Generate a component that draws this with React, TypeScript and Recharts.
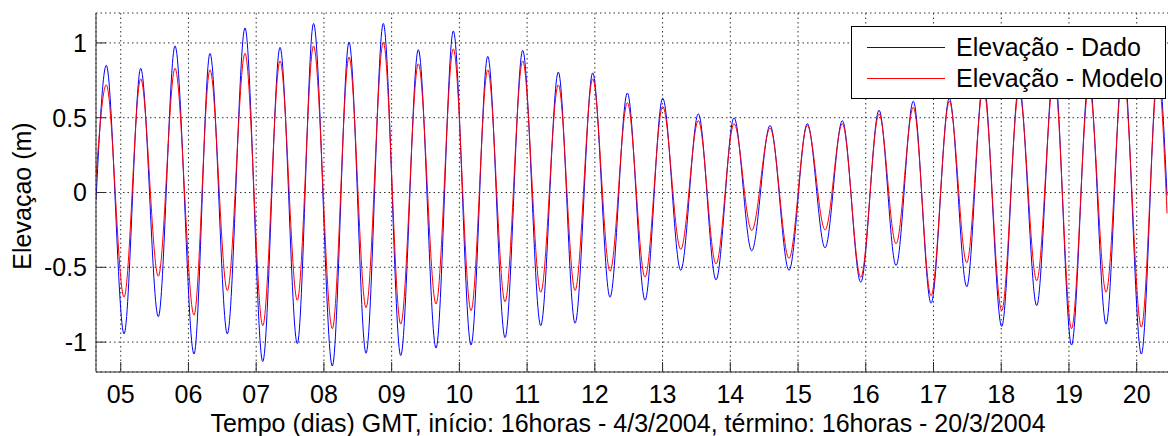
import { LineChart, Line, XAxis, YAxis, CartesianGrid } from "recharts";

const tempo = [
    4.635, 4.787, 5.049, 5.295, 5.555, 5.802, 6.082, 6.318, 6.574, 6.835, 7.097,
    7.352, 7.607, 7.847, 8.124, 8.371, 8.622, 8.877, 9.134, 9.394, 9.655, 9.911,
    10.172, 10.419, 10.674, 10.935, 11.201, 11.461, 11.708, 11.969, 12.224, 12.48,
    12.741, 13.002, 13.268, 13.528, 13.789, 14.055, 14.316, 14.587, 14.867, 15.137,
    15.399, 15.654, 15.926, 16.196, 16.447, 16.702, 16.964, 17.234, 17.491, 17.736,
    18.007, 18.263, 18.524, 18.78, 19.038, 19.296, 19.548, 19.799, 20.069, 20.315,
    20.448
];

const dado = [
    -0.05, 0.85, -0.945, 0.83, -0.83, 0.98, -1.08, 0.93, -0.945, 1.1, -1.13,
    0.97, -1.01, 1.13, -1.16, 1.005, -1.075, 1.13, -1.09, 0.955, -1.04, 1.08,
    -1.02, 0.91, -0.97, 0.95, -0.89, 0.805, -0.874, 0.8, -0.7, 0.665,
    -0.72, 0.63, -0.52, 0.526, -0.584, 0.5, -0.39, 0.448, -0.52, 0.46,
    -0.37, 0.48, -0.6, 0.55, -0.488, 0.61, -0.74, 0.63, -0.63, 0.75,
    -0.896, 0.72, -0.756, 0.85, -1.02, 0.78, -0.88, 0.9, -1.08, 0.85,
    -0.02
];

const modelo = [
    0.1, 0.72, -0.7, 0.76, -0.56, 0.83, -0.82, 0.82, -0.655, 0.93, -0.89,
    0.88, -0.72, 0.98, -0.91, 0.905, -0.77, 1.005, -0.88, 0.86, -0.745, 0.96,
    -0.79, 0.82, -0.73, 0.88, -0.667, 0.72, -0.655, 0.76, -0.526, 0.6,
    -0.566, 0.575, -0.38, 0.48, -0.477, 0.46, -0.254, 0.43, -0.44, 0.448,
    -0.25, 0.46, -0.566, 0.526, -0.343, 0.57, -0.69, 0.61, -0.47, 0.7,
    -0.79, 0.68, -0.59, 0.78, -0.91, 0.72, -0.667, 0.82, -0.9, 0.78,
    -0.14
];

const diasTicks = [5, 6, 7, 8, 9, 10, 11, 12, 13, 14, 15, 16, 17, 18, 19, 20];
const elevTicks = [-1, -0.5, 0, 0.5, 1];

const data = tempo.map((t, i) => ({ t, dado: dado[i], modelo: modelo[i] }));

const FONT = "Arial, 'Liberation Sans', Helvetica, sans-serif";
const AXIS_COLOR = "#2b2b2b";

const XTitle = () => (
    <text x={628} y={432} textAnchor="middle" fontSize={25} fontFamily={FONT} fill="#000">
        Tempo (dias) GMT, início: 16horas - 4/3/2004, término: 16horas - 20/3/2004
    </text>
);

const YTitle = () => (
    <text
        x={22}
        y={196}
        transform="rotate(-90 22 196)"
        textAnchor="middle"
        dominantBaseline="central"
        fontSize={25}
        fontFamily={FONT}
        fill="#000"
    >
        Elevaçao (m)
    </text>
);

const App = () => {
    return (
        <div
            style={{
                position: "absolute",
                left: 0,
                top: 0,
                width: 1168,
                height: 436,
                overflow: "hidden",
                background: "#fff",
                fontFamily: FONT
            }}
        >
            <LineChart
                width={1182}
                height={436}
                data={data}
                margin={{ top: 13, right: 0, left: 0, bottom: 0 }}
            >
                <CartesianGrid stroke="#333" strokeDasharray="1.5 3" />
                <XAxis
                    dataKey="t"
                    type="number"
                    domain={[4.635, 20.669]}
                    allowDataOverflow
                    ticks={diasTicks}
                    interval={0}
                    tickFormatter={(v) => String(v).padStart(2, "0")}
                    height={64}
                    tickSize={-10}
                    tickMargin={23}
                    stroke={AXIS_COLOR}
                    tick={{ fontSize: 25, fill: "#000", fontFamily: FONT }}
                    label={<XTitle />}
                />
                <XAxis
                    xAxisId="top"
                    orientation="top"
                    dataKey="t"
                    type="number"
                    domain={[4.635, 20.669]}
                    allowDataOverflow
                    ticks={diasTicks}
                    interval={0}
                    tickFormatter={() => ""}
                    height={0}
                    tickSize={-10}
                    stroke={AXIS_COLOR}
                />
                <YAxis
                    type="number"
                    domain={[-1.2, 1.2]}
                    allowDataOverflow
                    ticks={elevTicks}
                    interval={0}
                    width={96}
                    tickSize={-10}
                    tickMargin={19}
                    stroke={AXIS_COLOR}
                    tick={{ fontSize: 25, fill: "#000", fontFamily: FONT }}
                    label={<YTitle />}
                />
                <Line
                    type="monotone"
                    dataKey="dado"
                    stroke="#0000ff"
                    strokeWidth={1}
                    dot={false}
                    isAnimationActive={false}
                />
                <Line
                    type="monotone"
                    dataKey="modelo"
                    stroke="#ff0000"
                    strokeWidth={1}
                    dot={false}
                    isAnimationActive={false}
                />
            </LineChart>

            {/* legenda */}
            <div
                style={{
                    position: "absolute",
                    left: 851,
                    top: 26,
                    width: 315,
                    height: 73,
                    background: "#fff",
                    border: "1px solid #000",
                    boxSizing: "border-box",
                    fontSize: 25,
                    color: "#000"
                }}
            >
                {[
                    { name: "Elevação - Dado", color: "#0000ff" },
                    { name: "Elevação - Modelo", color: "#ff0000" }
                ].map((item, i) => (
                    <div
                        key={item.name}
                        style={{
                            position: "absolute",
                            left: 15,
                            top: 5 + i * 31,
                            height: 31,
                            display: "flex",
                            alignItems: "center",
                            whiteSpace: "nowrap"
                        }}
                    >
                        <span style={{ display: "inline-block", width: 78, height: 1, background: item.color, marginRight: 11 }} />
                        <span>{item.name}</span>
                    </div>
                ))}
            </div>
        </div>
    );
};

export default App;
